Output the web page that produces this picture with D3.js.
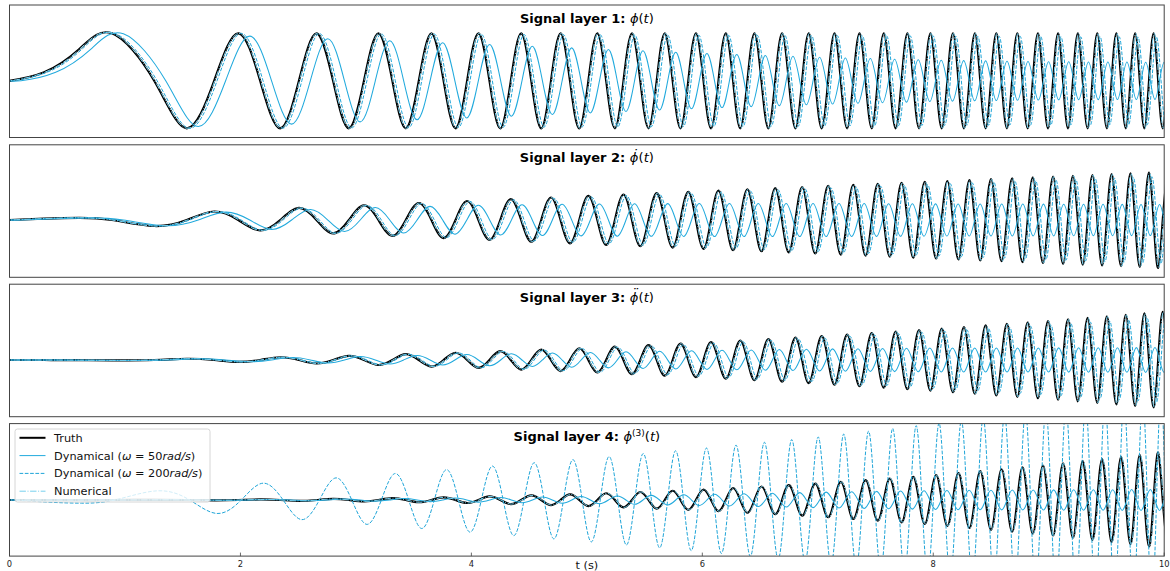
<!DOCTYPE html>
<html>
<head>
<meta charset="utf-8">
<script src="https://cdn.jsdelivr.net/npm/d3@7"></script>
<style>
  body { margin: 0; background: #fff; }
  svg { display: block; }
  text { white-space: pre; }
</style>
</head>
<body>
<svg id="chart" width="1170" height="571"></svg>
<script>
// ---------------------------------------------------------------------------
// Chirp reference and its estimated derivatives, four stacked signal layers.
// ---------------------------------------------------------------------------

// Knot instants of the chirp (s): two onset points, then every quarter cycle
// (zero crossings and extrema of the first layer).
const knotTimes = [0, 0.3, 0.6,
  0.8862, 1.2533, 1.5350, 1.7725, 1.9817, 2.1708, 2.3447, 2.5066, 2.6587, 2.8025,
  2.9393, 3.0700, 3.1953, 3.3160, 3.4323, 3.5449, 3.6540, 3.7599, 3.8630, 3.9633,
  4.0612, 4.1568, 4.2502, 4.3416, 4.4311, 4.5189, 4.6050, 4.6895, 4.7725, 4.8541,
  4.9343, 5.0133, 5.0910, 5.1675, 5.2430, 5.3174, 5.3907, 5.4631, 5.5344, 5.6050,
  5.6746, 5.7434, 5.8113, 5.8785, 5.9450, 6.0107, 6.0757, 6.1400, 6.2036, 6.2666,
  6.3289, 6.3907, 6.4518, 6.5124, 6.5724, 6.6319, 6.6908, 6.7493, 6.8072, 6.8647,
  6.9217, 6.9782, 7.0342, 7.0898, 7.1450, 7.1997, 7.2541, 7.3080, 7.3616, 7.4147,
  7.4675, 7.5199, 7.5719, 7.6236, 7.6749, 7.7259, 7.7766, 7.8269, 7.8770, 7.9267,
  7.9760, 8.0251, 8.0739, 8.1224, 8.1706, 8.2185, 8.2661, 8.3135, 8.3606, 8.4074,
  8.4540, 8.5003, 8.5464, 8.5922, 8.6378, 8.6831, 8.7283, 8.7731, 8.8178, 8.8623,
  8.9065, 8.9505, 8.9942, 9.0378, 9.0811, 9.1243, 9.1672, 9.2099, 9.2525, 9.2948,
  9.3370, 9.3789, 9.4207, 9.4623, 9.5037, 9.5449, 9.5860, 9.6268, 9.6675, 9.7081,
  9.7485, 9.7887, 9.8287, 9.8686, 9.9083, 9.9478, 9.9872, 10.0266];

// In-phase carrier level at each knot
const sinCarrier = [0, 0.179, 0.659,
  1, 0, -1, 0, 1, 0, -1, 0, 1, 0, -1, 0, 1, 0, -1, 0, 1, 0, -1, 0, 1, 0, -1, 0, 1, 0, -1, 0, 1, 0, -1, 0,
  1, 0, -1, 0, 1, 0, -1, 0, 1, 0, -1, 0, 1, 0, -1, 0, 1, 0, -1, 0, 1, 0, -1, 0, 1, 0, -1, 0, 1, 0, -1, 0,
  1, 0, -1, 0, 1, 0, -1, 0, 1, 0, -1, 0, 1, 0, -1, 0, 1, 0, -1, 0, 1, 0, -1, 0, 1, 0, -1, 0, 1, 0, -1, 0,
  1, 0, -1, 0, 1, 0, -1, 0, 1, 0, -1, 0, 1, 0, -1, 0, 1, 0, -1, 0, 1, 0, -1, 0, 1, 0, -1, 0, 1, 0, -1, 0];

// Quadrature carrier level at each knot
const cosCarrier = [1, 0.984, 0.752,
  0, -1, 0, 1, 0, -1, 0, 1, 0, -1, 0, 1, 0, -1, 0, 1, 0, -1, 0, 1, 0, -1, 0, 1, 0, -1, 0, 1, 0, -1, 0, 1,
  0, -1, 0, 1, 0, -1, 0, 1, 0, -1, 0, 1, 0, -1, 0, 1, 0, -1, 0, 1, 0, -1, 0, 1, 0, -1, 0, 1, 0, -1, 0, 1,
  0, -1, 0, 1, 0, -1, 0, 1, 0, -1, 0, 1, 0, -1, 0, 1, 0, -1, 0, 1, 0, -1, 0, 1, 0, -1, 0, 1, 0, -1, 0, 1,
  0, -1, 0, 1, 0, -1, 0, 1, 0, -1, 0, 1, 0, -1, 0, 1, 0, -1, 0, 1, 0, -1, 0, 1, 0, -1, 0, 1, 0, -1, 0, 1];

// Amplitude envelopes (signal units per layer), sampled at these instants (s)
const envTimes = [0, 1, 2, 3, 4, 5, 6, 7, 8, 9, 10];

const truthEnv = [
  [1, 1, 1, 1, 1, 1, 1, 1, 1, 1, 1],
  [0, 4, 8, 12, 16, 20, 24, 28, 32, 36, 40],
  [0, 16, 64, 144, 256, 400, 576, 784, 1024, 1296, 1600],
  [0, 64, 512, 1728, 4096, 8000, 13824, 21952, 32768, 46656, 64000]
];
const dyn50Env = [
  [1, 0.99, 0.94, 0.86, 0.77, 0.67, 0.57, 0.49, 0.43, 0.40, 0.39],
  [0, 3.92, 7.36, 10.2, 12.3, 13.4, 13.8, 13.8, 13.4, 13.2, 12.9],
  [0, 15.7, 59.5, 121, 189, 256, 317, 368, 399, 402, 416],
  [0, 63, 476, 1434, 2908, 4960, 7603, 10537, 12780, 13530, 14080]
];
const dyn200Env = [
  [1, 1, 1, 0.99, 0.98, 0.97, 0.96, 0.95, 0.94, 0.93, 0.92],
  [0, 4, 7.92, 11.76, 15.52, 19.2, 22.8, 26.32, 29.76, 33.12, 36.4],
  [0, 16, 63.4, 141, 248, 384, 541, 729, 942, 1166, 1424],
  [0, 9397, 20507, 31693, 43306, 55680, 69133, 84415, 102147, 121990, 144320]
];
const numericalEnv = [
  [1, 1, 1, 1, 1, 1, 1, 1, 1, 1, 1],
  [0, 4, 8, 12, 16, 20, 24, 28, 32, 36, 40],
  [0, 16, 64, 144, 256, 400, 576, 784, 1024, 1296, 1600],
  [0, 64, 512, 1728, 4096, 8000, 13824, 21952, 32768, 46656, 64000]
];

// Time lag (s) of each estimate behind the reference, at envTimes
const truthLag     = [0, 0, 0, 0, 0, 0, 0, 0, 0, 0, 0];
const dyn50Lag     = [0.1, 0.1, 0.099, 0.098, 0.097, 0.096, 0.095, 0.094, 0.093, 0.092, 0.091];
const dyn200Lag    = [0.025, 0.025, 0.025, 0.025, 0.025, 0.025, 0.025, 0.025, 0.025, 0.025, 0.025];
const numericalLag = [0.005, 0.005, 0.005, 0.005, 0.005, 0.005, 0.005, 0.005, 0.005, 0.005, 0.005];

// Per-layer carrier choice and sign
const layerCarrier = ["sin", "cos", "sin", "cos"];
const layerSign = [1, 1, -1, -1];

// Y-axis limits of each layer
const yLimits = [
  [-1.194, 1.596],
  [-47.75, 62.67],
  [-1884, 2518],
  [-74800, 101867]
];

// Title symbols: phi with derivative dots or an order superscript
const layerNumbers = ["1", "2", "3", "4"];
const layerDots = ["", "\u02D9", "\u00A8", ""];
const layerSuperscripts = ["", "", "", "(3)"];

const xDomain = [0, 10];
const xTicks = [0, 2, 4, 6, 8, 10];
const xLabel = "t (s)";

const seriesNames = ["Truth", "Dynamical", "Dynamical", "Numerical"];
const seriesOmega = [null, "50", "200", null];

// ---------------------------------------------------------------------------
const svg = d3.select("#chart");
const font = "'DejaVu Sans', sans-serif";

const left = 9.5, right = 1164.2;
const panelTop = [5, 144.8, 284.2, 423.6];
const panelH = 132.5;

const x = d3.scaleLinear().domain(xDomain).range([left, right]);

const series = [
  { env: truthEnv, lag: truthLag, color: "#000000", width: 2.2, dash: null },
  { env: dyn50Env, lag: dyn50Lag, color: "#22aadd", width: 1.05, dash: null },
  { env: dyn200Env, lag: dyn200Lag, color: "#1fa5d8", width: 1.0, dash: "3.7,1.6" },
  { env: numericalEnv, lag: numericalLag, color: "#76d0ee", width: 1.0, dash: "6.4,1.6,1,1.6" }
];

function tracePoints(layer, env, lag) {
  const carrier = layerCarrier[layer] === "sin" ? sinCarrier : cosCarrier;
  const amp = d3.scaleLinear().domain(envTimes).range(env).clamp(true);
  const shift = d3.scaleLinear().domain(envTimes).range(lag).clamp(true);
  const pts = knotTimes.map((t, i) => [t + shift(t), layerSign[layer] * carrier[i] * amp(t)]);
  if (pts[0][0] > 0) pts.unshift([0, 0]);
  return pts;
}

const defs = svg.append("defs");

for (let p = 0; p < 4; p++) {
  const top = panelTop[p], bottom = top + panelH;
  const y = d3.scaleLinear().domain(yLimits[p]).range([bottom, top]);

  defs.append("clipPath").attr("id", "clip" + p)
    .append("rect").attr("x", left).attr("y", top)
    .attr("width", right - left).attr("height", panelH);

  const g = svg.append("g");
  const plot = g.append("g").attr("clip-path", `url(#clip${p})`);

  const line = d3.line()
    .x(d => x(d[0]))
    .y(d => y(d[1]))
    .curve(d3.curveNatural);

  series.forEach(s => {
    plot.append("path")
      .attr("d", line(tracePoints(p, s.env[p], s.lag)))
      .attr("fill", "none")
      .attr("stroke", s.color)
      .attr("stroke-width", s.width)
      .attr("stroke-dasharray", s.dash)
      .attr("stroke-linejoin", "round");
  });

  // frame
  g.append("rect")
    .attr("x", left).attr("y", top)
    .attr("width", right - left).attr("height", panelH)
    .attr("fill", "none").attr("stroke", "#444").attr("stroke-width", 1);

  // title: bold label followed by the math symbol of the layer
  const title = g.append("text")
    .attr("x", (left + right) / 2).attr("y", top + 17.5)
    .attr("text-anchor", "middle")
    .attr("font-family", font).attr("font-size", 13).attr("fill", "#000");
  title.append("tspan").attr("font-weight", "bold").text("Signal layer " + layerNumbers[p] + ": ");
  if (layerDots[p]) {
    // derivative dots raised over the symbol (per-glyph offsets)
    title.append("tspan").attr("font-style", "italic")
      .attr("dx", "0 -6.6").attr("dy", "0 -4.5")
      .text("\u03D5" + layerDots[p]);
    title.append("tspan").attr("dx", 0.3).attr("dy", 4.5).text("(");
  } else if (layerSuperscripts[p]) {
    title.append("tspan").attr("font-style", "italic").text("\u03D5");
    title.append("tspan").attr("font-size", 9).attr("dy", -5.5).text(layerSuperscripts[p]);
    title.append("tspan").attr("dy", 5.5).text("(");
  } else {
    title.append("tspan").attr("font-style", "italic").text("\u03D5");
    title.append("tspan").text("(");
  }
  title.append("tspan").attr("font-style", "italic").text("t");
  title.append("tspan").text(")");

  // bottom axis only on the last layer
  if (p === 3) {
    const ax = g.append("g");
    xTicks.forEach(v => {
      ax.append("line")
        .attr("x1", x(v)).attr("x2", x(v))
        .attr("y1", bottom).attr("y2", bottom - 3.5)
        .attr("stroke", "#444").attr("stroke-width", 0.8);
      ax.append("text")
        .attr("x", x(v)).attr("y", bottom + 10.8)
        .attr("text-anchor", "middle")
        .attr("font-family", font).attr("font-size", 8.3).attr("fill", "#222")
        .text(v);
    });
    ax.append("text")
      .attr("x", (left + right) / 2).attr("y", 568.5)
      .attr("text-anchor", "middle")
      .attr("font-family", font).attr("font-size", 11.3).attr("fill", "#111")
      .text(xLabel);
  }
}

// legend in the last layer
const lg = svg.append("g");
lg.append("rect")
  .attr("x", 15).attr("y", 429).attr("width", 195).attr("height", 73).attr("rx", 2.5)
  .attr("fill", "#fff").attr("fill-opacity", 0.8)
  .attr("stroke", "#cccccc").attr("stroke-width", 0.8);

const rowY = [437.8, 455.6, 473.4, 491.2];
series.forEach((s, i) => {
  lg.append("line")
    .attr("x1", 19.5).attr("x2", 45.5).attr("y1", rowY[i]).attr("y2", rowY[i])
    .attr("stroke", s.color).attr("stroke-width", i === 0 ? 2 : 1)
    .attr("stroke-dasharray", s.dash);
  const t = lg.append("text")
    .attr("x", 54).attr("y", rowY[i] + 4)
    .attr("font-family", font).attr("font-size", 11.3).attr("fill", "#111");
  if (seriesOmega[i]) {
    t.append("tspan").text(seriesNames[i] + " (");
    t.append("tspan").attr("font-style", "italic").text("\u03C9");
    t.append("tspan").text(" = " + seriesOmega[i]);
    t.append("tspan").attr("font-style", "italic").text("rad/s");
    t.append("tspan").text(")");
  } else {
    t.text(seriesNames[i]);
  }
});
</script>
</body>
</html>
